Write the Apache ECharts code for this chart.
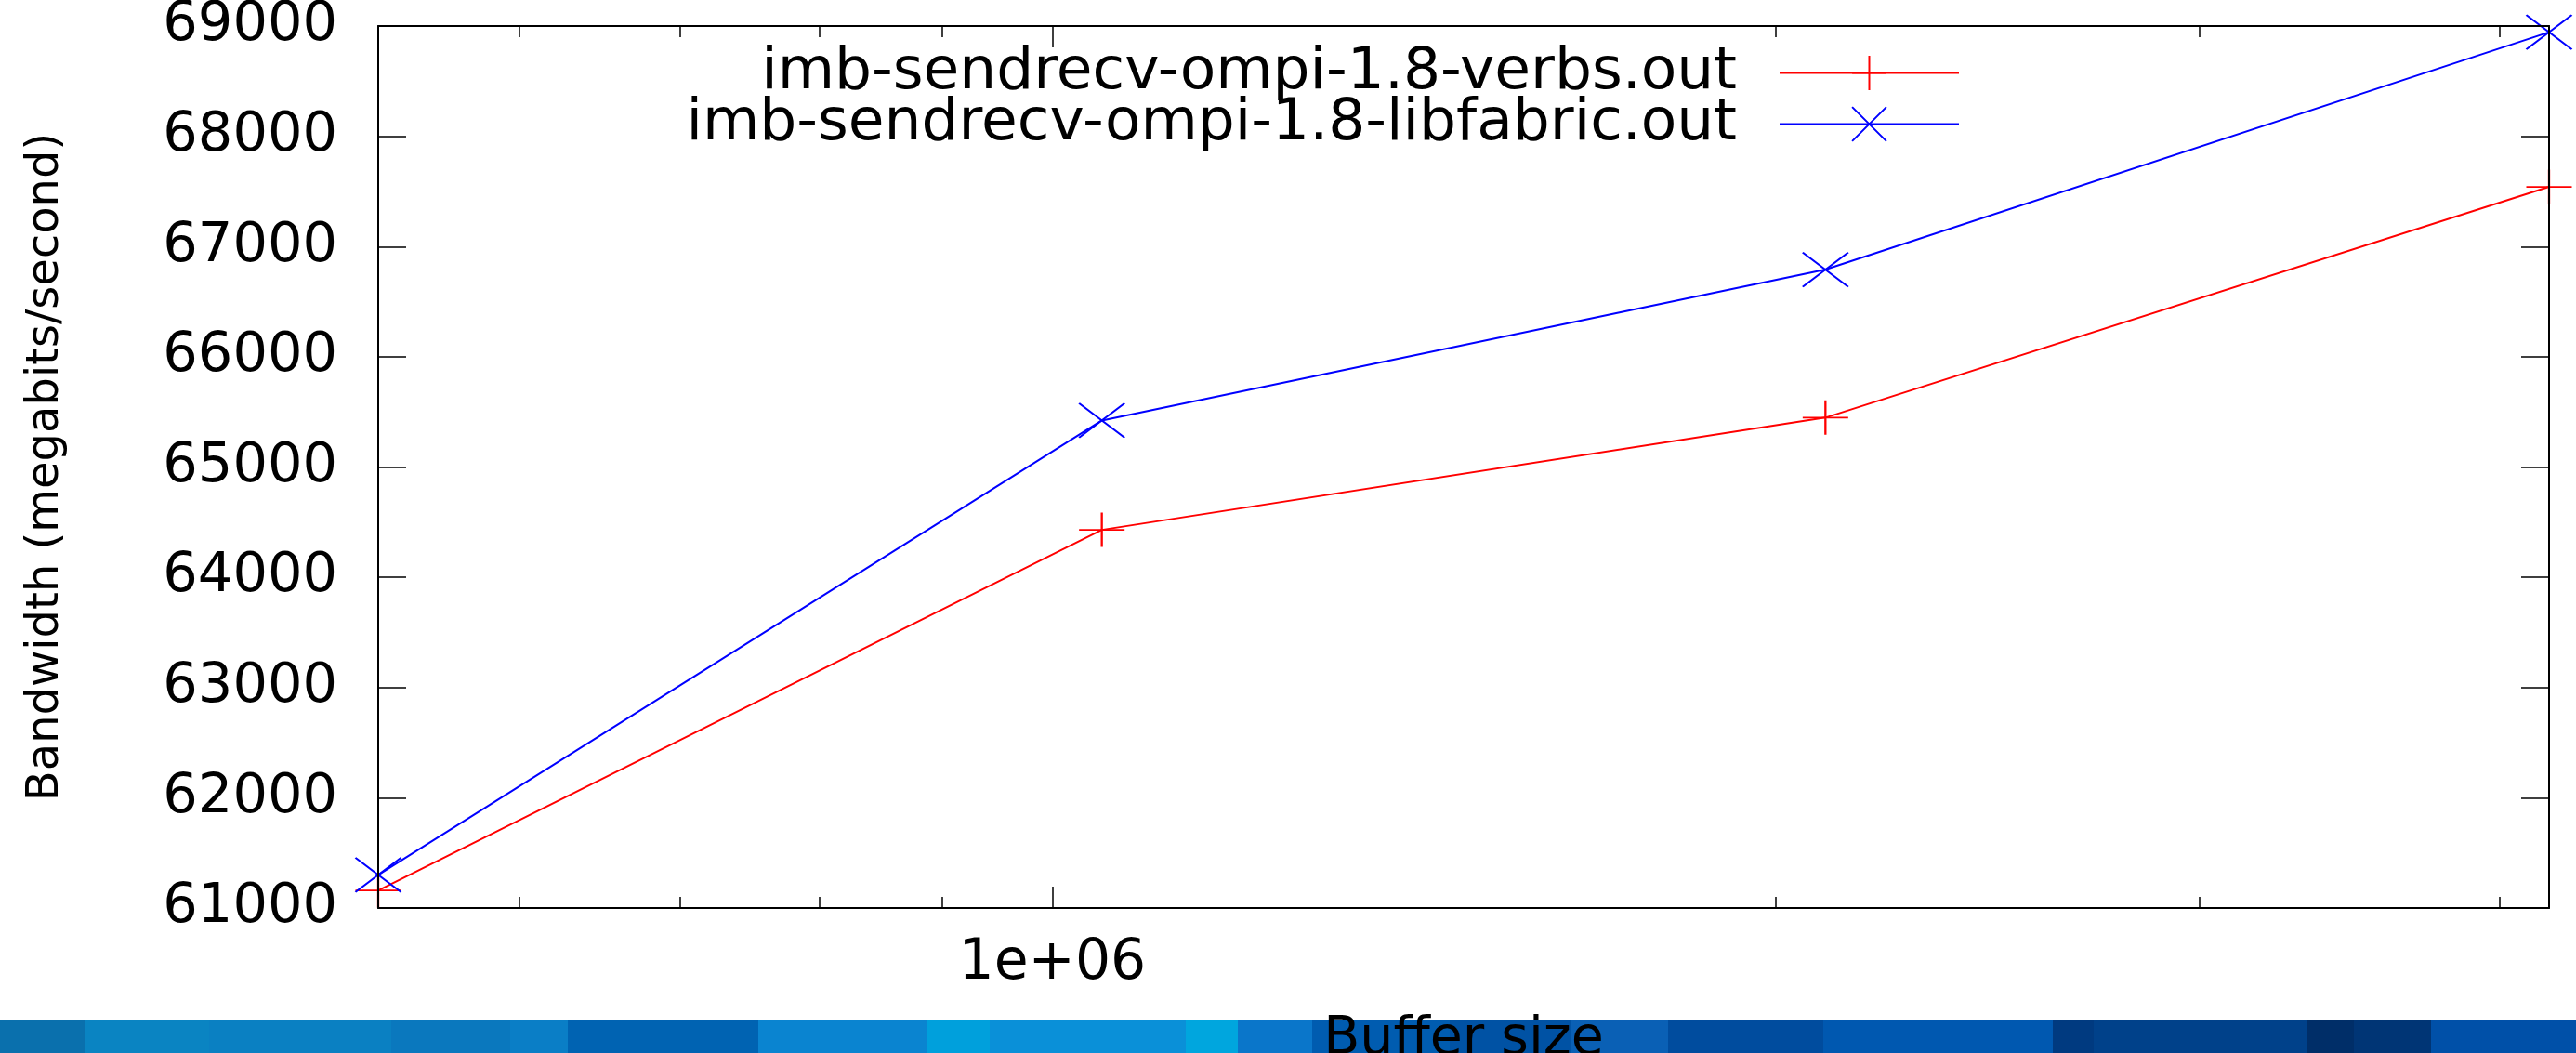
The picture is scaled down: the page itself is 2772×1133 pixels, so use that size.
<!DOCTYPE html>
<html><head><meta charset="utf-8">
<script src="https://cdn.jsdelivr.net/npm/echarts@6/dist/echarts.min.js"></script>
<style>html,body{margin:0;padding:0;background:#fff;overflow:hidden}#c{width:2772px;height:1133px}</style>
</head><body><div id="c"></div>
<script>
// ---- data ----
const bufferSizes = [524288, 1048576, 2097152, 4194304];
const verbsBandwidth = [61159, 64430, 65448, 67541];
const libfabricBandwidth = [61300, 65422, 66791, 68944];
const seriesNames = ['imb-sendrecv-ompi-1.8-verbs.out', 'imb-sendrecv-ompi-1.8-libfabric.out'];
const xMajorTicks = [1000000];
const xMinorTicks = [600000, 700000, 800000, 900000, 2000000, 3000000, 4000000];
const xRange = [524288, 4194304];
const yRange = [61000, 69000];
const yStep = 1000;
const xAxisTitle = 'Buffer size';
const yAxisTitle = 'Bandwidth (megabits/second)';

// ---- decoration (bottom stripe, not data) ----
const stripeStops = [0, 92, 225, 421, 549, 611, 816, 997, 1065, 1276, 1332, 1412, 1560, 1691, 1795, 1962, 2209, 2253, 2482, 2533, 2616, 2772];
const stripeFills = ['#0a70ad', '#0a84c2', '#0a80c2', '#0a78be', '#0a7ec6', '#0063b2', '#0a84d0', '#00a0dc', '#0a90d8', '#00a6de', '#0a76ca', '#005cb0', '#0052a4', '#0a60b5', '#004c9e', '#0058b0', '#003a80', '#00418a', '#002e68', '#003575', '#0050a8'];

const FONT = 'DejaVu Sans';
const PLUS = 'path://M0,5L10,5M5,0L5,10';
const CROSS = 'path://M0,0L10,10M10,0L0,10';

function sci(v) {
  const e = Math.floor(Math.log10(v) + 1e-9);
  const m = Math.round(v / Math.pow(10, e) * 1000) / 1000;
  return m + 'e' + (e >= 0 ? '+' : '-') + String(Math.abs(e)).padStart(2, '0');
}

function xAxisDef(pos, ticks, len, showLine, showLabel) {
  return {
    type: 'log', logBase: 10, min: xRange[0], max: xRange[1], position: pos, z: 5,
    axisLine: { show: showLine, onZero: false, lineStyle: { color: '#000', width: 2 } },
    axisTick: { show: true, inside: true, length: len, customValues: ticks, lineStyle: { color: '#000', width: 1.5 } },
    axisLabel: { show: showLabel, customValues: ticks, formatter: sci, margin: 30,
      fontFamily: FONT, fontSize: 60, color: '#000' },
    minorTick: { show: false }, splitLine: { show: false }
  };
}
function yAxisDef(pos, showLabel) {
  return {
    type: 'value', min: yRange[0], max: yRange[1], interval: yStep, position: pos, z: 5,
    axisLine: { show: true, onZero: false, lineStyle: { color: '#000', width: 2 } },
    axisTick: { show: true, inside: true, length: 30, lineStyle: { color: '#000', width: 1.5 } },
    axisLabel: { show: showLabel, formatter: v => String(v), margin: 44,
      fontFamily: FONT, fontSize: 59, color: '#000' },
    splitLine: { show: false }
  };
}

const xAxes = [
  xAxisDef('bottom', xMajorTicks, 23, true, true),
  xAxisDef('bottom', xMinorTicks, 12, false, false),
  xAxisDef('top', xMajorTicks, 23, true, false),
  xAxisDef('top', xMinorTicks, 12, false, false)
];
Object.assign(xAxes[0], {
  name: xAxisTitle, nameLocation: 'middle', nameGap: 114,
  nameTextStyle: { fontFamily: FONT, fontSize: 57, color: '#000' }
});
const yAxes = [yAxisDef('left', true), yAxisDef('right', false)];
Object.assign(yAxes[0], {
  name: yAxisTitle, nameLocation: 'middle', nameGap: 333,
  nameTextStyle: { fontFamily: FONT, fontSize: 48, color: '#000' }
});

function legendDef(name, top) {
  return {
    data: [name], orient: 'vertical', right: 663, top: top, padding: 0, align: 'right',
    itemWidth: 193, itemHeight: 46, selectedMode: false,
    textStyle: { fontFamily: FONT, fontSize: 63, color: '#000', padding: [0, 41, 0, 0] }
  };
}

const stripe = [];
for (let i = 0; i < stripeFills.length; i++) {
  stripe.push({ type: 'rect', z: -100, silent: true,
    shape: { x: stripeStops[i], y: 1098, width: stripeStops[i + 1] - stripeStops[i] + 1, height: 35 },
    style: { fill: stripeFills[i] } });
}

const chart = echarts.init(document.getElementById('c'), null, { renderer: 'canvas' });
chart.setOption({
  animation: false,
  backgroundColor: '#fff',
  grid: { left: 407, right: 29, top: 28, bottom: 156, containLabel: false, outerBoundsMode: 'none' },
  legend: [legendDef(seriesNames[0], 47), legendDef(seriesNames[1], 102)],
  xAxis: xAxes,
  yAxis: yAxes,
  graphic: { elements: stripe },
  series: [
    { name: seriesNames[0], type: 'line', xAxisIndex: 0, yAxisIndex: 0, clip: false,
      data: bufferSizes.map((x, i) => [x, verbsBandwidth[i]]),
      symbol: PLUS, symbolSize: [49, 37],
      lineStyle: { color: '#ff0000', width: 2 },
      itemStyle: { color: '#ff0000', borderColor: '#ff0000', borderWidth: 2 } },
    { name: seriesNames[1], type: 'line', xAxisIndex: 0, yAxisIndex: 0, clip: false,
      data: bufferSizes.map((x, i) => [x, libfabricBandwidth[i]]),
      symbol: CROSS, symbolSize: [49, 37],
      lineStyle: { color: '#0000ff', width: 2 },
      itemStyle: { color: '#0000ff', borderColor: '#0000ff', borderWidth: 2 } }
  ]
});
</script></body></html>
